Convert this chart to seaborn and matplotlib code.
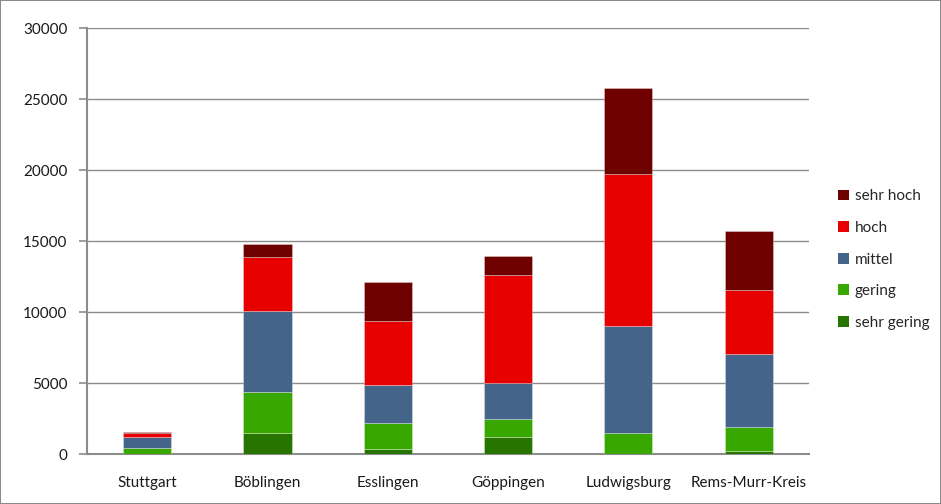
import numpy as np
import pandas as pd
import matplotlib
matplotlib.use("Agg")
import matplotlib.pyplot as plt
import seaborn as sns
from matplotlib.patches import Patch

# ----------------------------
# data
# ----------------------------
districts = ['Stuttgart', 'Böblingen', 'Esslingen', 'Göppingen',
             'Ludwigsburg', 'Rems-Murr-Kreis']

sehr_gering = [20, 1450, 350, 1170, 30, 230]
gering = [420, 2900, 1810, 1270, 1420, 1650]
mittel = [730, 5700, 2720, 2560, 7560, 5140]
hoch = [330, 3850, 4490, 7600, 10710, 4530]
sehr_hoch = [60, 890, 2720, 1350, 6030, 4180]

layers = ['sehr gering', 'gering', 'mittel', 'hoch', 'sehr hoch']
colors = ['#287400', '#38a800', '#446489', '#e60000', '#6e0000']

df = pd.DataFrame({
    'Kreis': districts,
    'sehr gering': sehr_gering,
    'gering': gering,
    'mittel': mittel,
    'hoch': hoch,
    'sehr hoch': sehr_hoch,
})

sns.set_style('white')
plt.rcParams['font.family'] = ['Lato', 'DejaVu Sans']

fig = plt.figure(figsize=(9.41, 5.04), dpi=100,
                 edgecolor='#8a8a8a', linewidth=1.2)
ax = fig.add_axes([0.0925, 0.0992, 0.767, 0.8452])

# stacked bars
bottom = np.zeros(len(districts))
for layer, color in zip(layers, colors):
    sns.barplot(
        data=df, x='Kreis', y=layer, color=color,
        bottom=bottom, width=0.4, ax=ax,
        edgecolor=(1, 1, 1, 0.3), linewidth=0.7,
        saturation=1, zorder=3,
    )
    bottom = bottom + df[layer].values

ax.set_ylim(0, 30000)
ax.set_xlim(-0.5, len(districts) - 0.5)
ax.set_yticks(np.arange(0, 30001, 5000))
ax.yaxis.grid(True, color='#8c8c8c', linewidth=1)
ax.set_axisbelow(True)
ax.set_xlabel('')
ax.set_ylabel('')

for side in ['top', 'right']:
    ax.spines[side].set_visible(False)
for side in ['left', 'bottom']:
    ax.spines[side].set_color('#8c8c8c')
    ax.spines[side].set_linewidth(1.5)

ax.set_xticks(np.arange(-0.5, len(districts)), minor=True)
ax.tick_params(axis='x', which='major', length=0, pad=16,
               labelsize=11, labelcolor='#1a1a1a')
ax.tick_params(axis='x', which='minor', length=5, width=1.2,
               color='#8c8c8c', direction='out')
ax.tick_params(axis='y', length=6, width=1.2, color='#8c8c8c',
               direction='out', pad=8, labelsize=11,
               labelcolor='#1a1a1a', left=True)

handles = [Patch(facecolor=c, edgecolor='none')
           for c in colors[::-1]]
fig.legend(
    handles, layers[::-1],
    loc='center left', bbox_to_anchor=(0.876, 0.485),
    frameon=False, fontsize=11,
    handlelength=0.7, handleheight=0.7,
    handletextpad=0.4, labelspacing=1.15,
)

fig.savefig('out.png', dpi=100, edgecolor=fig.get_edgecolor())
